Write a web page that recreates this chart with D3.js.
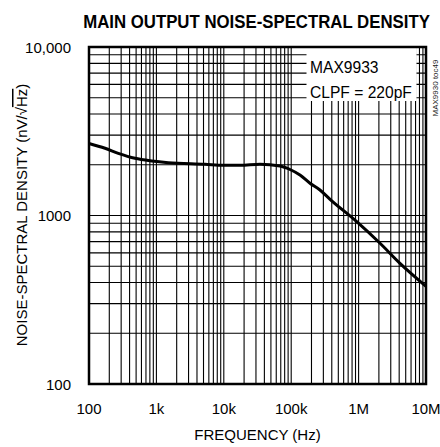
<!DOCTYPE html>
<html><head><meta charset="utf-8">
<script src="https://cdn.jsdelivr.net/npm/d3@7"></script>
<style>body{margin:0;background:#fff}svg{display:block;font-family:"Liberation Sans",Arial,sans-serif}</style>
</head><body><svg id="c" width="440" height="447"></svg>
<script>
const freq = [100,173,272,481,852,1500,5260,10000,17400,34400,68200,96000,135000,190000,267000,377000,938000,2080000,4110000,10000000];
const noise = [2675,2506,2339,2185,2106,2057,2013,1985,1985,2013,1967,1875,1739,1553,1417,1248,919,684,520,380];
const xTicks = [100,1e3,1e4,1e5,1e6,1e7];
const xTickLabels = ["100","1k","10k","100k","1M","10M"];
const yTicks = [100,1000,10000];
const yTickLabels = ["100","1000","10,000"];
const title = "MAIN OUTPUT NOISE-SPECTRAL DENSITY";
const legendLines = ["MAX9933","CLPF = 220pF"];

const svg = d3.select("#c");
const L=89,R=426,T=47,B=384;
const x = d3.scaleLog().domain([100,1e7]).range([L,R]);
const y = d3.scaleLog().domain([100,1e4]).range([B,T]);

// grid
const xg=[],yg=[];
for(let d=100; d<1e7; d*=10) for(let k=1;k<10;k++) xg.push(d*k);
for(let d=100; d<1e4; d*=10) for(let k=1;k<10;k++) yg.push(d*k);
const g=svg.append("g");
g.selectAll(".vx").data(xg).join("line").attr("x1",d=>x(d)).attr("x2",d=>x(d)).attr("y1",T).attr("y2",B).attr("stroke","#000").attr("stroke-width",1.1);
g.selectAll(".hy").data(yg).join("line").attr("y1",d=>y(d)).attr("y2",d=>y(d)).attr("x1",L).attr("x2",R).attr("stroke","#000").attr("stroke-width",1.1);

// legend box
svg.append("rect").attr("x",306.5).attr("y",T).attr("width",110).attr("height",54).attr("fill","#fff");
svg.selectAll(".lg").data(legendLines).join("text").attr("x",310).attr("y",(d,i)=>73+i*24.5)
  .attr("font-size",15.6).attr("fill","#000").text(d=>d);

// curve
const line=d3.line().x(d=>x(d[0])).y(d=>y(d[1])).curve(d3.curveMonotoneX);
svg.append("path").datum(freq.map((f,i)=>[f,noise[i]])).attr("d",line).attr("fill","none").attr("stroke","#000").attr("stroke-width",3);

// frame
svg.append("rect").attr("x",L).attr("y",T).attr("width",R-L).attr("height",B-T).attr("fill","none").attr("stroke","#000").attr("stroke-width",2.5);

// ticks
svg.selectAll(".xt").data(xTicks).join("text").attr("x",d=>x(d)).attr("y",414).attr("text-anchor","middle").attr("font-size",15).text((d,i)=>xTickLabels[i]);
svg.selectAll(".yt").data(yTicks).join("text").attr("x",71).attr("y",d=>y(d)+5.5).attr("text-anchor","end").attr("font-size",15).text((d,i)=>yTickLabels[i]);

// title (horizontally condensed via scale so its box stays inside)
const tt=svg.append("text").attr("text-anchor","middle").attr("font-size",18.5).attr("font-weight","bold").text(title);
const tw=tt.node().getComputedTextLength();
const sx=Math.min(1,347/tw);
tt.attr("transform",`translate(256.5,28) scale(${sx},1)`);

svg.append("text").attr("x",(L+R)/2).attr("y",440).attr("text-anchor","middle").attr("font-size",15).text("FREQUENCY (Hz)");
const yl=svg.append("text").attr("transform","translate(27,215) rotate(-90)").attr("text-anchor","middle").attr("font-size",15);
yl.append("tspan").text("NOISE-SPECTRAL DENSITY (nV/√");
yl.append("tspan").attr("text-decoration","overline").text("Hz");
yl.append("tspan").text(")");
svg.append("text").attr("transform","translate(438,88) rotate(-90)").attr("text-anchor","middle").attr("font-size",8).attr("fill","#222").text("MAX9930 toc49");
</script></body></html>
